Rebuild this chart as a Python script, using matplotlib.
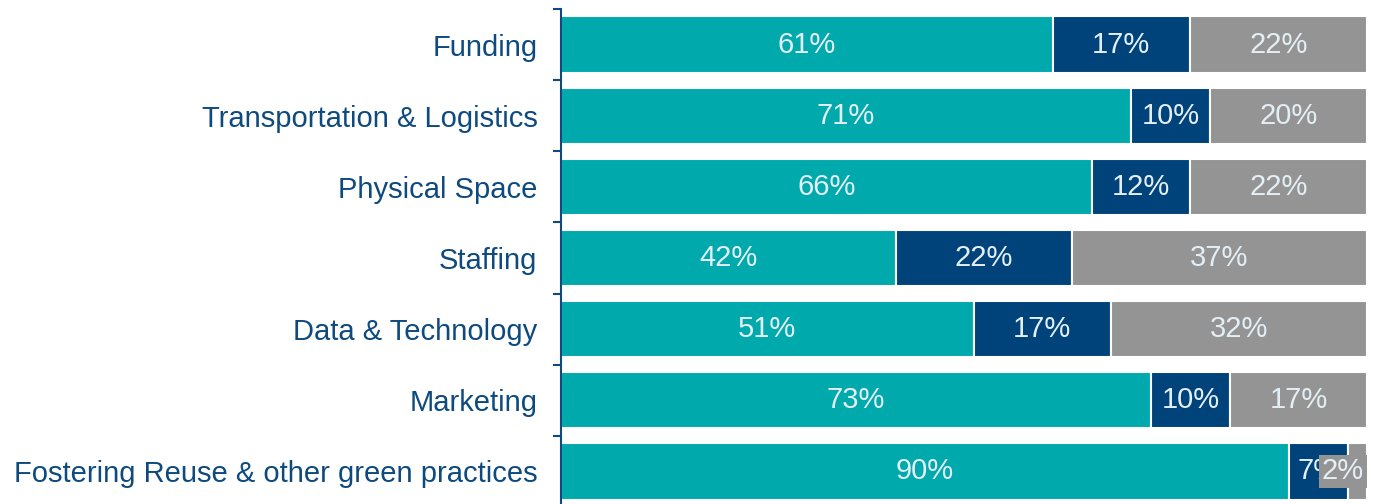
import matplotlib.pyplot as plt

categories = ["Funding", "Transportation & Logistics", "Physical Space", "Staffing",
              "Data & Technology", "Marketing", "Fostering Reuse & other green practices"]
seg1 = [61.0, 70.7, 65.9, 41.6, 51.2, 73.2, 90.3]
seg2 = [17.0, 9.8, 12.2, 21.8, 17.0, 9.8, 7.3]
seg3 = [22.0, 19.5, 21.9, 36.6, 31.8, 17.0, 2.4]

colors = ["#00a9ac", "#00437a", "#949494"]
label_color = "#e4eff5"
navy = "#0e4a7e"

plt.rcParams['font.family'] = ['Liberation Sans', 'DejaVu Sans']

fig = plt.figure(figsize=(13.74, 5.04), dpi=100)
ax = fig.add_axes([561 / 1374, -3 / 504, 806 / 1374, 498 / 504])

y = list(range(len(categories)))
left = [0.0] * len(categories)
for k, seg in enumerate([seg1, seg2, seg3]):
    bars = ax.barh(y, seg, left=left, height=0.79, color=colors[k],
                   edgecolor="white", linewidth=1.5)
    for i, (b, v) in enumerate(zip(bars, seg)):
        cx = left[i] + v / 2
        bbox = None
        if k == 2 and v < 5:
            cx = left[i] + v / 2 - 1.8
            bbox = dict(facecolor=colors[2], edgecolor="none", pad=2)
        ax.text(cx, i, f"{v:.0f}%", ha="center", va="center", fontsize=21,
                color=label_color, bbox=bbox)
    left = [l + v for l, v in zip(left, seg)]

ax.set_xlim(0, 100)
ax.set_ylim(len(categories) - 0.5, -0.5)
ax.set_yticks(y)
ax.set_yticklabels(categories, fontsize=21, color=navy)
ax.set_yticks([i - 0.5 for i in range(len(categories))], minor=True)
ax.tick_params(axis="y", which="major", length=0, pad=17)
ax.tick_params(axis="y", which="minor", length=6, width=1.5, color=navy)
ax.set_xticks([])
for s in ["top", "right", "bottom"]:
    ax.spines[s].set_visible(False)
ax.spines["left"].set_color(navy)
ax.spines["left"].set_linewidth(1.5)

fig.savefig("out.png", dpi=100)
